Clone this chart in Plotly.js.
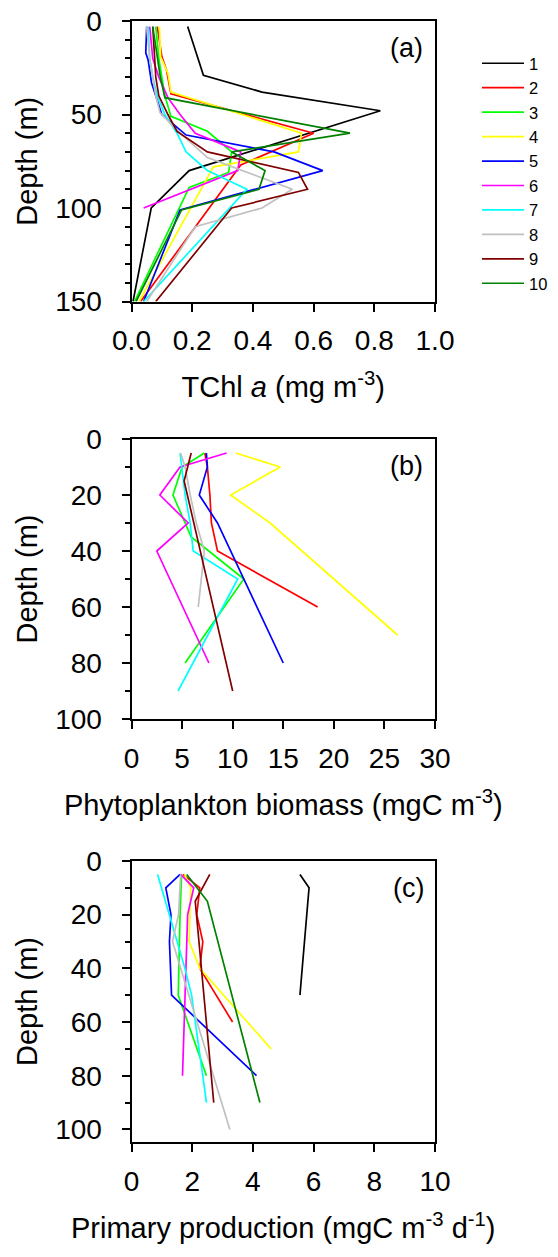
<!DOCTYPE html>
<html><head><meta charset="utf-8">
<script src="https://cdn.plot.ly/plotly-3.0.1.min.js"></script>
<style>html,body{margin:0;padding:0;background:#fff}</style>
</head><body><div id="chart" style="width:558px;height:1257px"></div>
<script>
// ---------- data ----------
const profileNames = ['1','2','3','4','5','6','7','8','9','10'];

// (a) TChl a (mg m-3) vs depth (m)
const chlDepth1 = [3, 29, 38, 48, 80, 100, 150];
const chl1      = [0.185, 0.237, 0.43, 0.82, 0.19, 0.065, 0.005];
const chlDepth2 = [3, 19, 26, 39, 60, 77, 150];
const chl2      = [0.085, 0.10, 0.115, 0.13, 0.60, 0.36, 0.03];
const chlDepth3 = [3, 20, 40, 51, 59, 70, 81, 89, 150];
const chl3      = [0.08, 0.09, 0.11, 0.13, 0.25, 0.33, 0.32, 0.19, 0.01];
const chlDepth4 = [3, 19, 28, 38, 60, 70, 78, 150];
const chl4      = [0.092, 0.096, 0.12, 0.13, 0.56, 0.55, 0.27, 0.025];
const chlDepth5 = [3, 17, 21, 33, 50, 61, 70, 80, 101, 150];
const chl5      = [0.05, 0.047, 0.055, 0.066, 0.10, 0.18, 0.47, 0.63, 0.16, 0.04];
const chlDepth6 = [3, 20, 30, 41, 50, 60, 70, 80, 100];
const chl6      = [0.06, 0.07, 0.09, 0.12, 0.16, 0.21, 0.36, 0.35, 0.04];
const chlDepth7 = [3, 20, 30, 40, 50, 60, 70, 80, 90, 150];
const chl7      = [0.055, 0.06, 0.07, 0.085, 0.11, 0.15, 0.18, 0.25, 0.38, 0.04];
const chlDepth8 = [3, 20, 30, 40, 49, 59, 73, 90, 100, 110, 150];
const chl8      = [0.05, 0.06, 0.07, 0.08, 0.094, 0.154, 0.25, 0.53, 0.43, 0.21, 0.05];
const chlDepth9 = [3, 20, 30, 40, 50, 59, 70, 81, 90, 100, 150];
const chl9      = [0.07, 0.075, 0.08, 0.09, 0.12, 0.15, 0.25, 0.55, 0.58, 0.33, 0.08];
const chlDepth10 = [3, 20, 30, 41, 60, 70, 80, 90, 101, 150];
const chl10      = [0.07, 0.085, 0.095, 0.11, 0.72, 0.33, 0.44, 0.42, 0.165, 0.015];

// (b) Phytoplankton biomass (mgC m-3)
const bioDepth2 = [5, 10, 20, 30, 40, 60];
const bio2      = [7.25, 7.5, 7.75, 7.9, 8.5, 18.4];
const bioDepth3 = [5, 10, 20, 35, 50, 80];
const bio3      = [7.2, 5.0, 4.1, 5.9, 11.1, 5.3];
const bioDepth4 = [5, 10, 20, 30, 70];
const bio4      = [10.3, 14.7, 9.8, 13.7, 26.3];
const bioDepth5 = [5, 10, 20, 30, 80];
const bio5      = [7.4, 7.5, 6.7, 8.5, 15.0];
const bioDepth6 = [5, 10, 20, 30, 40, 80];
const bio6      = [9.4, 4.8, 2.8, 5.6, 2.5, 7.65];
const bioDepth7 = [5, 20, 30, 40, 50, 90];
const bio7      = [4.8, 5.3, 5.8, 6.1, 10.5, 4.6];
const bioDepth8 = [5, 10, 20, 30, 40, 60];
const bio8      = [4.85, 5.3, 5.8, 6.4, 7.2, 6.6];
const bioDepth9 = [5, 15, 90];
const bio9      = [5.9, 5.2, 10.0];

// (c) Primary production (mgC m-3 d-1)
const ppDepth1 = [5, 10, 50];
const pp1      = [5.55, 5.85, 5.55];
const ppDepth2 = [5, 10, 20, 30, 40, 60];
const pp2      = [1.7, 2.25, 2.15, 2.35, 2.25, 3.33];
const ppDepth3 = [5, 20, 50, 80];
const pp3      = [1.65, 1.6, 1.54, 2.47];
const ppDepth4 = [5, 10, 30, 40, 70];
const pp4      = [1.75, 1.95, 1.9, 2.25, 4.6];
const ppDepth5 = [5, 10, 20, 30, 50, 80];
const pp5      = [1.6, 1.13, 1.3, 1.25, 1.32, 4.12];
const ppDepth6 = [5, 10, 20, 80];
const pp6      = [1.62, 2.05, 1.85, 1.68];
const ppDepth7 = [5, 40, 50, 90];
const pp7      = [0.86, 1.76, 1.98, 2.47];
const ppDepth8 = [5, 20, 30, 100];
const pp8      = [1.62, 1.55, 1.35, 3.24];
const ppDepth9 = [5, 15, 90];
const pp9      = [2.58, 2.1, 2.71];
const ppDepth10 = [5, 15, 90];
const pp10      = [1.82, 2.5, 4.23];

// ---------- styles ----------
const profileColors = ['#000000','#ff0000','#00ff00','#ffff00','#0000ff',
                       '#ff00ff','#00ffff','#c0c0c0','#800000','#008000'];

const panelA = [[chl1,chlDepth1],[chl2,chlDepth2],[chl3,chlDepth3],[chl4,chlDepth4],[chl5,chlDepth5],
                [chl6,chlDepth6],[chl7,chlDepth7],[chl8,chlDepth8],[chl9,chlDepth9],[chl10,chlDepth10]];
const panelB = [null,[bio2,bioDepth2],[bio3,bioDepth3],[bio4,bioDepth4],[bio5,bioDepth5],
                [bio6,bioDepth6],[bio7,bioDepth7],[bio8,bioDepth8],[bio9,bioDepth9],null];
const panelC = [[pp1,ppDepth1],[pp2,ppDepth2],[pp3,ppDepth3],[pp4,ppDepth4],[pp5,ppDepth5],
                [pp6,ppDepth6],[pp7,ppDepth7],[pp8,ppDepth8],[pp9,ppDepth9],[pp10,ppDepth10]];

const traces = [];
function addPanel(panel, xa, ya, legend) {
  panel.forEach((p, i) => {
    if (!p) return;
    traces.push({
      type: 'scatter', mode: 'lines', x: p[0], y: p[1],
      xaxis: xa, yaxis: ya, name: profileNames[i], legendgroup: 'g' + i,
      showlegend: legend, line: {color: profileColors[i], width: 1.7}
    });
  });
}
addPanel(panelA, 'x', 'y', true);
addPanel(panelB, 'x2', 'y2', false);
addPanel(panelC, 'x3', 'y3', false);

const W = 558, H = 1257;
const FONT = 'Liberation Sans, Arial, sans-serif';
const TICK = 28, TITLE = 29;
const xdom = [131.5 / W, 435 / W];
function ydom(top, bottom) { return [1 - bottom / H, 1 - top / H]; }

function xAxis(range, dtick, fmt, title, anchor) {
  return {
    domain: xdom, range: range, dtick: dtick, tick0: 0, tickformat: fmt, anchor: anchor,
    showline: true, linewidth: 2, linecolor: '#000', mirror: true,
    ticks: 'outside', ticklen: 8, tickwidth: 2, tickcolor: '#000',
    showgrid: false, zeroline: false, ticklabelstandoff: 5,
    tickfont: {family: FONT, size: TICK, color: '#000'},
    title: {text: title, standoff: 22, font: {family: FONT, size: TITLE, color: '#000'}},
    automargin: false
  };
}
function yAxis(range, dtick, dom, anchor) {
  return {
    domain: dom, range: range, dtick: dtick, tick0: 0, anchor: anchor,
    showline: true, linewidth: 2, linecolor: '#000', mirror: true,
    ticks: 'outside', ticklen: 8, tickwidth: 2, tickcolor: '#000',
    minor: {dtick: 10, ticks: 'outside', ticklen: 5, tickwidth: 2, tickcolor: '#000', showgrid: false},
    showgrid: false, zeroline: false, ticklabelstandoff: 14,
    tickfont: {family: FONT, size: TICK, color: '#000'},
    title: {text: 'Depth (m)', standoff: 9, font: {family: FONT, size: TITLE, color: '#000'}},
    automargin: false
  };
}

const layout = {
  width: W, height: H, autosize: false,
  margin: {l: 0, r: 0, t: 0, b: 0},
  paper_bgcolor: '#fff', plot_bgcolor: '#fff',
  font: {family: FONT, color: '#000'},
  xaxis:  xAxis([0, 1], 0.2, '.1f', 'TChl <i>a</i> (mg m<sup>-3</sup>)', 'y'),
  yaxis:  yAxis([150, 0], 50, ydom(21, 301.5), 'x'),
  xaxis2: xAxis([0, 30], 5, '', 'Phytoplankton biomass (mgC m<sup>-3</sup>)', 'y2'),
  yaxis2: yAxis([100, 0], 20, ydom(439, 719), 'x2'),
  xaxis3: xAxis([0, 10], 2, '', 'Primary production (mgC m<sup>-3</sup> d<sup>-1</sup>)', 'y3'),
  yaxis3: yAxis([104.7, 0], 20, ydom(861, 1142), 'x3'),
  showlegend: true,
  legend: {
    x: 477 / W, y: 1 - 46 / H, xanchor: 'left', yanchor: 'top',
    font: {family: FONT, size: 16.5, color: '#000'},
    itemwidth: 42, bgcolor: 'rgba(0,0,0,0)', borderwidth: 0, tracegroupgap: 0
  },
  annotations: [
    {text: '(a)', x: 406 / W, y: 1 - 48 / H},
    {text: '(b)', x: 406 / W, y: 1 - 466 / H},
    {text: '(c)', x: 408 / W, y: 1 - 888 / H}
  ].map(a => Object.assign(a, {xref: 'paper', yref: 'paper', showarrow: false,
      xanchor: 'center', yanchor: 'middle', font: {family: FONT, size: 27, color: '#000'}}))
};

Plotly.newPlot('chart', traces, layout, {displayModeBar: false, staticPlot: true});
</script>
</body></html>
